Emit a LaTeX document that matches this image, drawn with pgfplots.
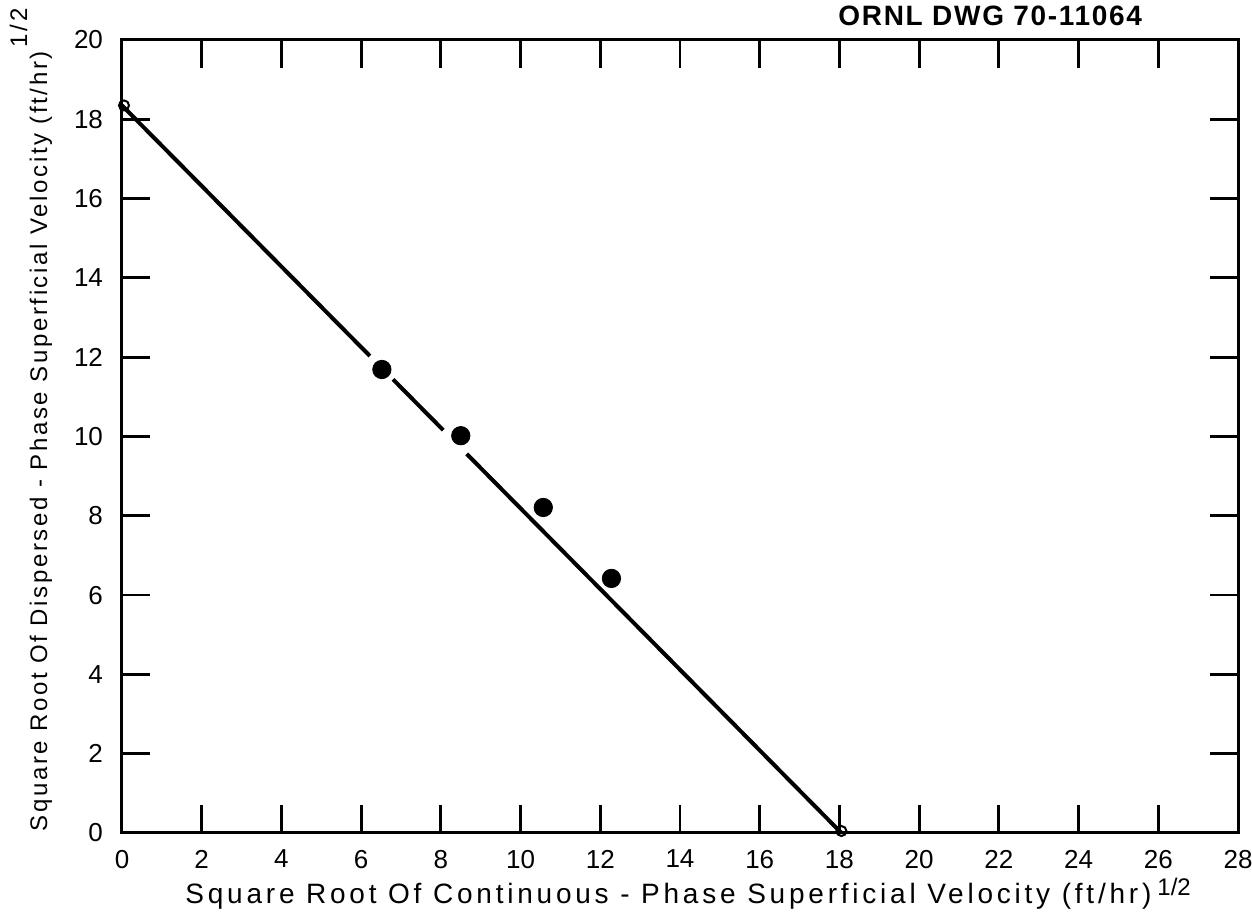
\documentclass[border=0pt]{standalone}
\usepackage{fontspec}
\setmainfont{Liberation Sans}
\newfontfamily\labelfont[LetterSpace=13.5]{Liberation Sans}
\newfontfamily\ylabelfont[LetterSpace=11]{Liberation Sans}
\newfontfamily\titlefont[LetterSpace=6]{Liberation Sans}
\usepackage{pgfplots}
\pgfplotsset{compat=1.18}
\begin{document}
\begin{tikzpicture}
\useasboundingbox (-61pt,-43pt) rectangle (565pt,416.5pt);
\begin{axis}[
  at={(0,0)}, anchor=south west,
  scale only axis, width=558pt, height=396.5pt,
  xmin=0, xmax=28, ymin=0, ymax=20,
  xtick={0,2,...,28}, ytick={0,2,...,20},
  tick align=inside, major tick length=14pt,
  every tick/.style={black, line width=1.4pt},
  axis line style={line width=1.5pt},
  tick label style={font=\fontsize{13}{15}\selectfont},
  /pgf/number format/assume math mode=true,
  xticklabel style={yshift=-5pt},
  yticklabel style={xshift=-6pt},
  clip=false,
]
% fitted line, drawn with gaps around the first two points
\addplot[black, line width=2pt, no marks] coordinates {(0,18.35) (6.22,12.03)};
\addplot[black, line width=2pt, no marks] coordinates {(6.80,11.44) (8.06,10.16)};
\addplot[black, line width=2pt, no marks] coordinates {(8.65,9.56) (18.05,0)};
% intercepts (open circles)
\addplot[only marks, mark=o, mark size=2.5pt, mark options={black, line width=1pt, fill=white}]
  coordinates {(0.05,18.35) (18.05,0.05)};
% data points
\addplot[only marks, mark=*, mark size=4.6pt, mark options={black, fill=black}]
  coordinates {(6.52,11.69) (8.50,10.02) (10.57,8.21) (12.28,6.42)};
\node[anchor=base west, font=\labelfont\fontsize{14}{16}\selectfont]
  at (rel axis cs:0.0505,-0.0895)
  {Square Root Of Continuous - Phase Superficial Velocity (ft/hr)\hspace{3pt}\raisebox{4pt}{\rmfamily\fontsize{12}{14}\selectfont 1/2}};
\node[anchor=base, rotate=90, font=\ylabelfont\fontsize{12}{14}\selectfont]
  at (rel axis cs:-0.0672,0.521)
  {Square Root Of Dispersed - Phase Superficial Velocity (ft/hr)\hspace{2pt}\raisebox{10pt}{1/2}};
\node[anchor=center, font=\titlefont\bfseries\fontsize{14}{16}\selectfont]
  at (rel axis cs:0.778,1.030) {ORNL DWG 70-11064};
\end{axis}
\end{tikzpicture}
\end{document}
